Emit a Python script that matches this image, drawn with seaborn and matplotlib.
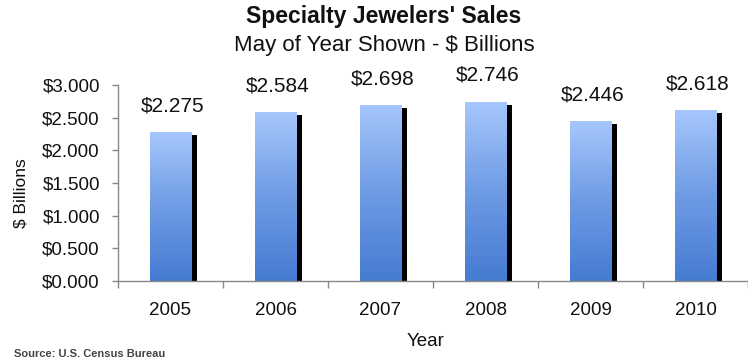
import numpy as np
import pandas as pd
import matplotlib
matplotlib.use("Agg")
import matplotlib.pyplot as plt
import seaborn as sns
from matplotlib.colors import LinearSegmentedColormap
from matplotlib.patches import Rectangle

# ---- data ----
years = ["2005", "2006", "2007", "2008", "2009", "2010"]
sales = [2.275, 2.584, 2.698, 2.746, 2.446, 2.618]
ytick_values = [0.0, 0.5, 1.0, 1.5, 2.0, 2.5, 3.0]
title = "Specialty Jewelers' Sales"
subtitle = "May of Year Shown - $ Billions"
xlabel = "Year"
ylabel = "$ Billions"
source = "Source: U.S. Census Bureau"

sns.set_theme(style="white")
plt.rcParams["font.family"] = ["Liberation Sans", "DejaVu Sans"]

W, H = 748, 360
fig = plt.figure(figsize=(W / 100, H / 100), dpi=100)
ax_l, ax_r, ax_b, ax_t = 118, 748, 281, 85
ax = fig.add_axes([ax_l / W, 1 - ax_b / H, (ax_r - ax_l) / W, (ax_b - ax_t) / H])

df = pd.DataFrame({"Year": years, "Sales": sales})
sns.barplot(data=df, x="Year", y="Sales", ax=ax, width=0.40,
            color="#7fa8ea", saturation=1, errorbar=None)

ax.set_xlim(-0.5, len(years) - 0.5)
ax.set_ylim(0, 3.0)

# pixel -> data conversions
px_x = (len(years)) / (ax_r - ax_l)
px_y = 3.0 / (ax_b - ax_t)

cmap = LinearSegmentedColormap.from_list("g", ["#467bd2", "#6e9be4", "#a6c7fc"])
grad = np.linspace(0, 1, 256).reshape(-1, 1)
for p in ax.patches:
    x0, w, h = p.get_x(), p.get_width(), p.get_height()
    p.set_edgecolor("none")
    # shadow on right side
    ax.add_patch(Rectangle((x0 + w, 0), 5 * px_x, h - 3 * px_y,
                           facecolor="black", edgecolor="none", zorder=1.5))
    im = ax.imshow(grad, extent=[x0, x0 + w, 0, h], origin="lower",
                   aspect="auto", cmap=cmap, zorder=2, interpolation="bilinear")
    im.set_clip_path(p)
    p.set_zorder(2)

ax.set_xlim(-0.5, len(years) - 0.5)
ax.set_ylim(0, 3.0)

# data labels
for p, v in zip(ax.patches[:len(sales)], sales):
    ax.annotate(f"${v:.3f}", (p.get_x() + p.get_width() / 2 + 2.5 * px_x, v),
                xytext=(0, 12), textcoords="offset points", ha="center",
                va="bottom", fontsize=15, color="#111111", annotation_clip=False)

# axes styling
for s in ["top", "right"]:
    ax.spines[s].set_visible(False)
for s in ["left", "bottom"]:
    ax.spines[s].set_color("#888888")
    ax.spines[s].set_linewidth(1.0)

ax.set_yticks(ytick_values)
ax.set_yticklabels([f"${v:.3f}" for v in ytick_values], fontsize=13.5, color="#111111")
ax.set_xticks(range(len(years)))
ax.set_xticklabels(years, fontsize=13.5, color="#111111")
ax.set_xticks(np.arange(-0.5, len(years) + 0.5, 1.0), minor=True)
ax.tick_params(axis="x", which="major", length=0, pad=15)
ax.tick_params(axis="x", which="minor", length=5, width=1, color="#888888",
               direction="out", bottom=True)
ax.tick_params(axis="y", which="major", length=4, width=1, color="#888888",
               direction="out", left=True, pad=9)

ax.set_xlabel("")
ax.set_ylabel("")
fig.text(426 / W, 1 - 341 / H, xlabel, ha="center", va="center", fontsize=13.5, color="#111111")
fig.text(21 / W, 1 - 193 / H, ylabel, ha="center", va="center", rotation=90,
         fontsize=12.5, color="#111111")

fig.text(384 / W, 1 - 17 / H, title, ha="center", va="center", fontsize=16.5,
         fontweight="bold", color="#111111")
fig.text(384 / W, 1 - 46 / H, subtitle, ha="center", va="center", fontsize=16,
         color="#111111")
fig.text(14 / W, 1 - 349 / H, source, ha="left", va="top", fontsize=8,
         fontweight="bold", color="#444444")

fig.savefig("out.png", dpi=100)
